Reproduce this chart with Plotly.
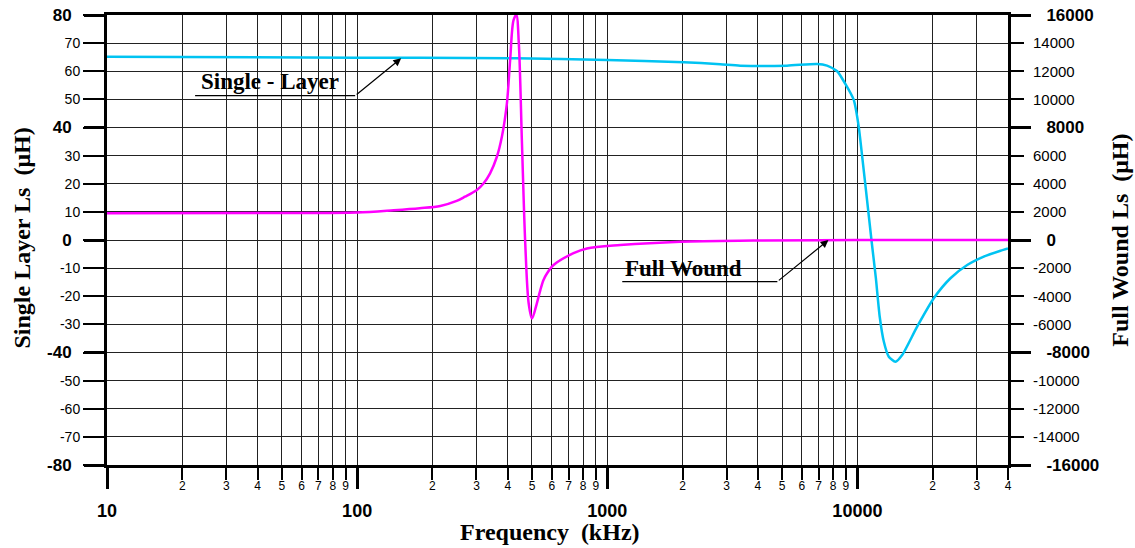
import math
import plotly.graph_objects as go

# ---------------- data ----------------
# Single-layer coil inductance (left axis, uH) vs frequency (kHz)
freq_single = [10, 100, 178, 430, 1000, 2020, 2830, 3400, 5230, 6900, 7560, 8300,
               8950, 9670, 10120, 10470, 10930, 11380, 11850, 12280, 12750, 13350,
               14190, 15100, 17330, 20200, 23550, 27470, 32000, 37330, 40000]
ls_single = [65.2, 64.8, 64.8, 64.6, 64.0, 63.2, 62.5, 62.0, 62.0, 62.6, 62.0, 60.0,
             55.5, 49.8, 40.3, 29.0, 14.2, 0.0, -13.5, -27.3, -36.1, -41.5,
             -43.3, -40.9, -30.8, -20.7, -13.6, -8.9, -5.9, -3.8, -3.0]

# Full-wound coil inductance (right axis, uH) vs frequency (kHz)
freq_full = [10, 50, 100, 140, 178, 215, 250, 270, 301, 320, 340, 362, 379, 397, 409,
             422, 433, 443, 456, 470, 485, 500, 523, 540, 556, 574, 610, 733, 829,
             1127, 1959, 3838, 10000, 40000]
ls_full = [1900, 1920, 1960, 2120, 2260, 2420, 2780, 3080, 3560, 4020, 4740, 5920,
           7340, 9720, 12800, 15640, 16000, 13980, 6880, -240, -4500, -5580, -4500,
           -3560, -2840, -2380, -1780, -940, -600, -360, -120, -40, 0, 0]

# tick values / labels
x_minor_vals = [m * d for d in (10, 100, 1000) for m in range(2, 10)] + [20000, 30000, 40000]
x_minor_text = [str(m) for d in (10, 100, 1000) for m in range(2, 10)] + ["2", "3", "4"]
x_decade_vals = [10, 100, 1000, 10000]
x_decade_text = ["10", "100", "1000", "10000"]

left_vals = list(range(-80, 81, 10))
left_bold = [-80, -40, 0, 40, 80]
right_vals = list(range(-16000, 16001, 2000))
right_bold = [-16000, -8000, 0, 8000, 16000]

CYAN = "#00C3F2"
MAGENTA = "#FF00FF"
SANS = "Liberation Sans, Arial, sans-serif"
SERIF = "Liberation Serif, Times New Roman, serif"

fig = go.Figure()
fig.add_trace(go.Scatter(x=freq_single, y=ls_single, mode="lines", name="Single - Layer",
                         line=dict(color=CYAN, width=2.5, shape="spline", smoothing=0.6),
                         xaxis="x", yaxis="y"))
fig.add_trace(go.Scatter(x=freq_full, y=ls_full, mode="lines", name="Full Wound",
                         line=dict(color=MAGENTA, width=2.5, shape="spline", smoothing=0.9),
                         xaxis="x", yaxis="y2"))
# invisible copies so that the overlay axes (bold ticks / decade labels) get drawn
fig.add_trace(go.Scatter(x=freq_single, y=ls_single, mode="lines", opacity=0,
                         hoverinfo="skip", showlegend=False, xaxis="x2", yaxis="y3"))
fig.add_trace(go.Scatter(x=freq_full, y=ls_full, mode="lines", opacity=0,
                         hoverinfo="skip", showlegend=False, xaxis="x2", yaxis="y4"))

xrange = [1, math.log10(40000)]

layout = dict(
    width=1135, height=548,
    margin=dict(l=107, r=127, t=15, b=83, autoexpand=False),
    paper_bgcolor="white", plot_bgcolor="white",
    showlegend=False,
    xaxis=dict(type="log", range=xrange, automargin=False,
               tickmode="array",
               tickvals=x_minor_vals + x_decade_vals,
               ticktext=x_minor_text + [""] * len(x_decade_vals),
               ticks="outside", ticklen=12, tickwidth=2, tickcolor="black",
               ticklabelstandoff=-4,
               tickfont=dict(family=SANS, size=12, color="black"),
               showgrid=True, gridcolor="#222", gridwidth=1,
               showline=True, linecolor="black", linewidth=3, mirror=True,
               zeroline=False),
    xaxis2=dict(type="log", range=xrange, overlaying="x", anchor="y", side="bottom",
                automargin=False,
                tickmode="array", tickvals=x_decade_vals,
                ticktext=["<b>%s</b>" % t for t in x_decade_text],
                ticks="outside", ticklen=23, tickwidth=3, tickcolor="black",
                ticklabelstandoff=6,
                tickfont=dict(family=SANS, size=18, color="black"),
                showgrid=False, showline=False, zeroline=False),
    yaxis=dict(range=[-80, 80], automargin=False, tickmode="array", tickvals=left_vals,
               ticktext=["" if v in left_bold else str(v) for v in left_vals],
               ticks="outside", ticklen=21, tickwidth=1.5, tickcolor="black",
               tickfont=dict(family=SANS, size=14, color="black"),
               showgrid=True, gridcolor="#222", gridwidth=1,
               showline=True, linecolor="black", linewidth=3, mirror=True,
               zeroline=False),
    yaxis3=dict(range=[-80, 80], overlaying="y", anchor="x", side="left", automargin=False,
                tickmode="array", tickvals=left_bold,
                ticktext=["<b>%d</b>" % v for v in left_bold],
                ticks="outside", ticklen=22, tickwidth=3, tickcolor="black",
                ticklabelstandoff=9,
                tickfont=dict(family=SANS, size=17, color="black"),
                showgrid=False, showline=False, zeroline=False),
    yaxis2=dict(range=[-16000, 16000], overlaying="y", anchor="x", side="right",
                automargin=False,
                tickmode="array", tickvals=right_vals,
                ticktext=["" if v in right_bold else str(v) for v in right_vals],
                ticks="outside", ticklen=13, tickwidth=1.5, tickcolor="black",
                ticklabelstandoff=6,
                tickfont=dict(family=SANS, size=15, color="black"),
                showgrid=False, showline=True, linecolor="black", linewidth=3,
                zeroline=False),
    yaxis4=dict(range=[-16000, 16000], overlaying="y", anchor="x", side="right",
                automargin=False,
                tickmode="array", tickvals=right_bold,
                ticktext=["<b>%d</b>" % v for v in right_bold],
                ticks="outside", ticklen=22, tickwidth=3, tickcolor="black",
                ticklabelstandoff=12,
                tickfont=dict(family=SANS, size=17, color="black"),
                showgrid=False, showline=False, zeroline=False),
)
fig.update_layout(**layout)

# axis titles
fig.add_annotation(text="<b>Frequency&nbsp; (kHz)</b>", xref="paper", yref="paper",
                   x=0.4917, y=-0.149, xanchor="center", yanchor="middle", showarrow=False,
                   font=dict(family=SERIF, size=24, color="black"))
fig.add_annotation(text="<b>Single Layer Ls&nbsp; (μH)</b>", xref="paper", yref="paper",
                   x=-0.094, y=0.504, xanchor="center", yanchor="middle",
                   textangle=-90, showarrow=False,
                   font=dict(family=SERIF, size=24, color="black"))
fig.add_annotation(text="<b>Full Wound Ls&nbsp; (μH)</b>", xref="paper", yref="paper",
                   x=1.124, y=0.50, xanchor="center", yanchor="middle",
                   textangle=-90, showarrow=False,
                   font=dict(family=SERIF, size=24, color="black"))

# series labels with leader lines
lab = dict(family=SERIF, size=23, color="black")
fig.add_annotation(text="<b>Single - Layer</b>", xref="x", yref="y",
                   x=math.log10(44.9), y=56.5, showarrow=False, font=lab)
fig.add_shape(type="line", xref="x", yref="y", x0=22.5, x1=98.2, y0=51.3, y1=51.3,
              line=dict(color="black", width=1.2))
fig.add_annotation(text="", xref="x", yref="y", axref="x", ayref="y",
                   x=math.log10(150), y=64.6, ax=math.log10(98.2), ay=51.3,
                   showarrow=True, arrowhead=2, arrowsize=1.3, arrowwidth=1.2,
                   arrowcolor="black")

fig.add_annotation(text="<b>Full Wound</b>", xref="x", yref="y",
                   x=math.log10(2023), y=-10.3, showarrow=False, font=lab)
fig.add_shape(type="line", xref="x", yref="y", x0=1148, x1=4786, y0=-14.8, y1=-14.8,
              line=dict(color="black", width=1.2))
fig.add_annotation(text="", xref="x", yref="y", axref="x", ayref="y",
                   x=math.log10(7660), y=0, ax=math.log10(4786), ay=-14.8,
                   showarrow=True, arrowhead=2, arrowsize=1.3, arrowwidth=1.2,
                   arrowcolor="black")

fig.write_html("out.html")
